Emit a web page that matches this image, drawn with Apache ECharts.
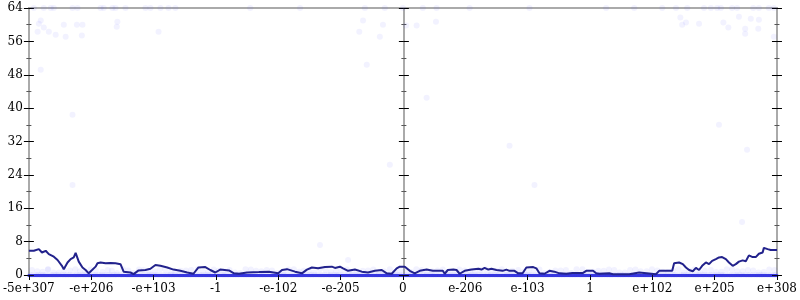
<!DOCTYPE html>
<html><head><meta charset="utf-8">
<script src="https://cdn.jsdelivr.net/npm/echarts@6/dist/echarts.min.js"></script>
<style>html,body{margin:0;padding:0;background:#fff}#c{width:800px;height:300px}</style>
</head><body><div id="c"></div>
<script>
const tickLabels = ["-5e+307","-e+206","-e+103","-1","-e-102","-e-205","0","e-206","e-103","1","e+102","e+205","e+308"];

const lineX = [0,0.08,0.16,0.21,0.27,0.32,0.40,0.46,0.53,0.56,0.59,0.62,0.67,0.72,0.75,0.80,0.86,0.91,0.96,0.99,1.07,1.10,1.15,1.23,1.31,1.39,1.47,1.52,1.63,1.68,1.76,1.87,1.95,2.03,2.11,2.22,2.32,2.43,2.54,2.64,2.72,2.83,2.91,2.99,3.07,3.21,3.29,3.37,3.50,3.69,3.85,4.00,4.06,4.14,4.27,4.38,4.46,4.54,4.64,4.75,4.86,4.91,4.99,5.04,5.12,5.23,5.34,5.44,5.55,5.66,5.74,5.82,5.90,5.95,6.03,6.11,6.19,6.27,6.38,6.48,6.64,6.67,6.72,6.81,6.86,6.91,6.99,7.10,7.21,7.26,7.31,7.37,7.42,7.50,7.60,7.66,7.71,7.79,7.85,7.92,7.98,8.09,8.14,8.19,8.27,8.35,8.43,8.51,8.62,8.72,8.89,8.94,9.05,9.10,9.15,9.31,9.37,9.63,9.66,9.79,9.82,10.06,10.11,10.32,10.35,10.43,10.49,10.54,10.59,10.65,10.70,10.75,10.80,10.86,10.91,10.96,11.02,11.07,11.12,11.18,11.23,11.29,11.34,11.39,11.45,11.50,11.55,11.61,11.66,11.71,11.77,11.79,11.85,11.90,12.0];
const lineY = [5.8,5.8,6.2,5.4,5.8,5.0,4.4,3.6,2.2,1.4,1.2,3.0,3.8,4.2,5.3,3.2,1.8,1.2,0.4,0.2,2.0,2.8,3.0,2.8,2.9,2.8,2.6,0.8,0.6,0.2,1.1,1.2,1.5,2.4,2.2,1.8,1.3,1.0,0.6,0.3,1.8,1.9,1.2,0.6,1.3,1.1,0.4,0.3,0.6,0.7,0.8,0.4,1.2,1.4,0.8,0.4,1.3,1.8,1.6,1.9,2.0,1.7,2.0,1.6,1.0,1.3,0.8,0.6,1.0,1.2,0.4,0.3,1.6,2.0,2.0,1.0,0.4,1.0,1.3,1.0,1.0,0.3,1.2,1.3,1.2,0.3,1.0,1.3,1.5,1.3,1.7,1.3,1.5,1.2,1.0,1.3,1.0,1.0,0.4,0.4,1.8,1.9,1.6,0.4,0.3,1.0,0.8,0.4,0.3,0.5,0.5,1.0,1.0,0.4,0.3,0.4,0.2,0.2,0.6,0.6,0.2,0.2,1.0,1.0,2.8,3.0,2.6,1.8,1.2,0.9,1.7,1.2,2.2,3.0,2.6,3.4,3.8,4.2,4.3,3.8,3.0,2.2,2.6,3.2,3.5,3.3,4.7,4.3,4.3,5.1,5.4,6.5,6.2,6.0,6.0];

// scattered samples (x in axis units, y values)
const zeroX = [0.02,0.11,0.19,0.27,0.36,0.44,0.53,0.61,0.70,0.77,0.86,0.95,1.03,1.12,1.21,1.29,1.37,1.46,1.55,1.63,1.72,1.80,1.89,1.97,2.06,2.15,2.23,2.31,2.40,2.49,2.57,2.66,2.74,2.83,2.91,3.00,3.09,3.17,3.26,3.34,3.43,3.51,3.60,3.69,3.77,3.86,3.94,4.03,4.11,4.20,4.29,4.37,4.46,4.54,4.63,4.71,4.80,4.89,4.97,5.06,5.14,5.23,5.31,5.40,5.49,5.57,5.66,5.74,5.83,5.91,6.00,6.09,6.17,6.26,6.34,6.43,6.51,6.60,6.69,6.77,6.86,6.94,7.03,7.11,7.20,7.29,7.37,7.46,7.54,7.63,7.71,7.80,7.89,7.97,8.06,8.14,8.23,8.31,8.40,8.49,8.57,8.66,8.74,8.83,8.91,9.00,9.09,9.17,9.26,9.34,9.43,9.51,9.60,9.69,9.77,9.86,9.94,10.03,10.11,10.20,10.29,10.37,10.46,10.54,10.63,10.71,10.80,10.89,10.97,11.06,11.14,11.23,11.31,11.40,11.49,11.57,11.66,11.74,11.83,11.91,11.98];
const lowX = [0.05,0.22,0.31,0.48,0.66,0.82,0.99,1.18,1.33,1.51,1.68,1.84,2.02,2.19,2.35,2.52,2.71,2.88,3.04,3.22,3.39,3.56,3.73,3.90,4.08,4.25,4.41,4.58,4.76,4.93,5.10,5.27,5.44,5.61,5.79,5.96,6.13,6.30,6.47,6.64,6.82,6.99,7.16,7.33,7.50,7.67,7.85,8.02,8.19,8.36,8.53,8.70,8.88,9.05,9.22,9.39,9.56,9.73,9.91,10.08,10.25,10.42,10.59,10.76,10.94,11.11,11.28,11.45,11.62,11.79,11.96];
const lowY = [1.2,0.8,1.4,0.6,1.1,0.9,1.3,0.7,1.0,1.4,0.5,1.2,0.9,1.3,0.6,1.1,1.4,0.8,1.0,1.2,0.5,1.3,0.9,1.1,0.7,1.4,1.0,0.6,1.2,0.9,1.3,0.8,1.1,0.6,1.4,1.0,0.7,1.2,0.9,1.3,0.5,1.1,0.8,1.4,1.0,0.6,1.2,0.9,1.3,0.7,1.1,0.5,1.4,0.8,1.0,1.2,0.6,1.3,0.9,1.1,0.7,1.4,1.0,0.6,1.2,0.8,1.3,0.9,1.1,0.7,1.2];
const lowY2 = [0.9,1.3,0.6,1.1,1.4,0.7,1.0,1.2,0.5,1.1,1.3,0.8,1.4,0.6,1.0,1.2,0.7,1.3,0.9,0.6,1.4,1.0,1.2,0.5,1.3,0.8,1.1,1.4,0.7,1.2,0.6,1.0,1.3,0.9,0.8,1.2,1.4,0.6,1.1,0.7,1.3,0.9,1.2,0.6,1.4,1.0,0.8,1.3,0.5,1.1,1.2,1.4,0.7,1.0,1.3,0.6,1.2,0.9,1.4,0.8,1.1,0.6,1.3,1.0,0.7,1.4,0.9,1.2,0.6,1.3,0.8];
const topX = [0.08,0.24,0.35,0.40,0.70,0.78,1.15,1.20,1.34,1.39,1.55,1.87,1.95,2.11,2.24,2.35,3.55,4.35,5.39,5.71,6.00,6.32,6.54,7.07,8.03,9.26,9.71,10.16,10.38,10.56,10.83,10.94,11.04,11.10,11.28,11.36,11.62,11.71,11.87,11.95];
const highX = [0.16,0.19,0.24,0.14,0.32,0.43,0.56,0.59,0.77,0.86,0.85,1.42,1.41,2.08,0.19,5.36,5.68,5.30,5.63,6.05,6.22,6.53,5.42,10.45,10.48,10.54,10.75,11.14,11.22,11.39,11.49,11.58,11.71,11.49,11.70,11.95,0.70,0.70,4.67,5.12,11.44,6.38,8.11,11.07,11.52,5.79,7.71];
const highY = [60.2,61,59.3,58.3,58.3,57.6,60,57.1,60,60,57.4,60.7,59.5,58.3,49.2,61,60,58.3,57.1,59.8,59.8,60.7,50.4,61.7,60,60.5,60.2,60.5,59.3,61.9,59,61.4,61.2,57.8,59,57.1,38.4,21.6,7.2,3.6,12.7,42.5,21.6,36,30,26.4,31];

const pts = [];
zeroX.forEach(x => pts.push([x, 0]));
zeroX.forEach(x => pts.push([x + 0.04, 0]));
lowX.forEach((x, i) => pts.push([x, lowY[i]]));
lowX.forEach((x, i) => pts.push([x + 0.085, lowY2[i]]));
topX.forEach(x => pts.push([x, 64]));
highX.forEach((x, i) => pts.push([x, highY[i]]));

const font = {fontFamily: 'DejaVu Serif', fontSize: 12, color: '#000'};
const gray = '#aaaaaa';

function yAx(pos, offset, inside, labels) {
  return {
    type: 'value', min: 0, max: 64, interval: 8, position: pos, offset: offset,
    axisLine: {show: true, onZero: false, lineStyle: {color: gray, width: 2}},
    axisTick: {show: true, inside: inside, length: 5, lineStyle: {color: '#000', width: 1}},
    minorTick: {show: true, splitNumber: 2, length: 2.5, lineStyle: {color: '#555', width: 1}},
    axisLabel: labels ? Object.assign({show: true, margin: 6}, font) : {show: false},
    splitLine: {show: false}
  };
}

const chart = echarts.init(document.getElementById('c'), null, {renderer: 'canvas'});
chart.setOption({
  animation: false,
  grid: {left: 28, right: 22, top: 8, bottom: 25, containLabel: false},
  xAxis: [
    {type: 'value', min: 0, max: tickLabels.length - 1, interval: 1, position: 'bottom',
     axisLine: {show: true, onZero: false, lineStyle: {color: '#3535dc', width: 3}},
     axisTick: {show: true, length: 5, lineStyle: {color: '#000'}},
     axisLabel: Object.assign({margin: 8, formatter: v => tickLabels[Math.round(v)]}, font),
     splitLine: {show: false}},
    {type: 'value', min: 0, max: tickLabels.length - 1, position: 'top',
     axisLine: {show: true, onZero: false, lineStyle: {color: gray, width: 2}},
     axisTick: {show: false}, axisLabel: {show: false}, splitLine: {show: false}}
  ],
  yAxis: [
    yAx('left', 0, false, true),
    yAx('left', 0, true, false),
    yAx('right', 0, false, false),
    yAx('right', 0, true, false),
    yAx('left', -375, false, false),
    yAx('left', -375, true, false)
  ],
  series: [
    {type: 'scatter', data: pts, symbolSize: 6, silent: true,
     itemStyle: {color: 'rgba(70,70,255,0.09)'}},
    {type: 'line', data: lineX.map((x, i) => [x, lineY[i]]), showSymbol: false,
     lineStyle: {color: '#22228c', width: 2}, z: 5}
  ]
});
</script></body></html>
